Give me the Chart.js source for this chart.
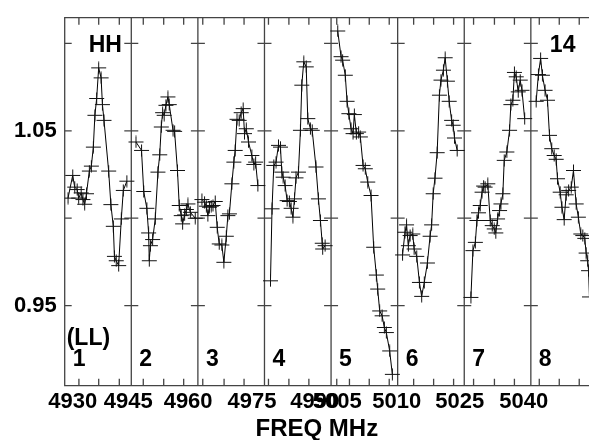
<!DOCTYPE html>
<html>
<head>
<meta charset="utf-8">
<script src="https://cdn.jsdelivr.net/npm/chart.js@4.4.1/dist/chart.umd.min.js"></script>
<style>
  html, body { margin: 0; padding: 0; background: #fff; }
  #chart { display: block; }
</style>
</head>
<body>
<canvas id="chart" width="589" height="440"></canvas>
<script>
// one spectrum per panel: [offset inside panel (MHz), amplitude]
const panel1 = [[0.75,1.0115],[1.8,1.0245],[2.25,1.0178],[2.8,1.0164],[3.15,1.0115],[3.7,1.0145],[4.1,1.0107],
  [4.5,1.0080],[4.9,1.0140],[5.55,1.0270],[6.0,1.0298],[6.45,1.0407],[6.8,1.0589],[7.2,1.0685],[7.65,1.0860],
  [8.2,1.0803],[8.5,1.0650],[8.85,1.0560],[9.9,1.0270],[10.4,1.0078],[10.95,0.9954],[11.2,0.9782],[11.6,0.9757],
  [12.15,0.9729],[12.75,0.9996],[13.2,1.0159],[14.0,1.0212]];
const panel2 = [[1.05,1.0436],[2.3,1.0388],[2.8,1.0153],[3.5,1.0057],[3.9,0.9916],[4.05,0.9757],[4.3,0.9843],
  [4.8,0.9878],[5.4,0.9996],[6.0,1.0264],[6.4,1.0363],[6.75,1.0522],[7.05,1.0604],[7.4,1.0589],[7.8,1.0646],
  [8.25,1.0694],[8.55,1.0650],[9.4,1.0503],[9.75,1.0497],[10.4,1.0273],[10.8,1.0073],[11.25,1.0015],
  [11.55,0.9968],[12.0,1.0019],[12.4,1.0050],[12.75,1.0082],[13.3,1.0034],[14.4,1.0000]];
const panel3 = [[0.9,1.0107],[1.5,1.0092],[1.9,1.0069],[2.25,1.0015],[2.6,1.0063],[3.0,1.0069],[3.4,1.0073],
  [3.9,1.0096],[4.35,0.9948],[4.8,0.9853],[5.4,0.9847],[5.85,0.9748],[6.4,0.9897],[6.75,1.0015],[7.1,1.0025],
  [7.65,1.0197],[8.1,1.0321],[8.4,1.0388],[8.8,1.0566],[9.3,1.0560],[9.75,1.0604],[10.2,1.0627],[10.5,1.0484],
  [10.9,1.0512],[11.4,1.0436],[12.15,1.0359],[12.6,1.0308],[13.0,1.0321],[13.5,1.0187]];
const panel4 = [[1.35,0.9642],[1.7,1.0054],[2.1,1.0302],[2.6,1.0321],[3.15,1.0417],[3.6,1.0407],[3.9,1.0264],
  [4.2,1.0235],[4.65,1.0187],[5.1,1.0101],[5.6,1.0096],[6.0,1.0057],[6.4,1.0006],[6.75,1.0111],[7.1,1.0231],
  [7.65,1.0264],[8.1,1.0503],[8.4,1.0761],[8.85,1.0895],[9.4,1.0866],[9.75,1.0570],[10.35,1.0512],[10.75,1.0503],
  [11.6,1.0293],[12.15,1.0111],[12.6,0.9987],[13.0,0.9857],[13.1,0.9824],[13.65,0.9843]];
const panel5 = [[1.5,1.1071],[2.25,1.0924],[2.6,1.0904],[3.2,1.0818],[3.6,1.0669],[4.0,1.0598],[4.5,1.0512],
  [4.95,1.0484],[5.25,1.0593],[5.7,1.0484],[6.2,1.0493],[6.6,1.0465],[7.2,1.0302],[7.7,1.0283],[8.25,1.0207],
  [9.0,1.0130],[9.6,0.9834],[10.2,0.9675],[10.5,0.9595],[10.95,0.9470],[11.5,0.9442],[12.0,0.9375],
  [12.45,0.9346],[13.2,0.9241],[13.8,0.9107]];
const panel6 = [[1.1,0.9790],[1.65,0.9920],[2.0,0.9962],[2.4,0.9843],[2.8,0.9901],[3.4,0.9910],[3.7,0.9824],
  [4.3,0.9782],[4.9,0.9633],[5.4,0.9553],[6.0,0.9633],[6.7,0.9744],[7.3,0.9897],[7.65,0.9962],[8.0,1.0140],
  [8.4,1.0229],[8.9,1.0375],[9.4,1.0704],[9.75,1.0790],[10.3,1.0847],[10.7,1.0918],[11.2,1.0784],[11.6,1.0669],
  [12.15,1.0560],[12.5,1.0532],[12.8,1.0459],[13.4,1.0388]];
const panel7 = [[1.5,0.9547],[1.95,0.9815],[2.5,0.9862],[2.85,0.9987],[3.2,1.0031],[3.6,1.0073],[4.0,1.0149],
  [4.35,1.0184],[4.7,1.0178],[5.3,1.0197],[5.85,0.9987],[6.3,0.9958],[6.75,0.9939],[7.1,0.9916],[7.5,0.9996],
  [7.95,1.0044],[8.25,1.0082],[8.7,1.0140],[9.0,1.0331],[9.6,1.0379],[10.2,1.0503],[10.5,1.0650],[10.95,1.0675],
  [11.3,1.0834],[11.7,1.0809],[12.15,1.0723],[12.6,1.0790],[13.0,1.0732],[13.6,1.0570]];
const panel8 = [[1.2,1.0669],[1.7,1.0822],[2.2,1.0914],[2.6,1.0818],[3.2,1.0732],[3.75,1.0675],[4.2,1.0474],
  [4.7,1.0398],[5.25,1.0359],[5.7,1.0337],[6.0,1.0226],[6.6,1.0149],[7.0,1.0063],[7.5,0.9992],[7.95,1.0134],
  [8.5,1.0159],[9.1,1.0178],[9.6,1.0273],[10.2,1.0082],[10.7,1.0006],[11.25,0.9910],[11.7,0.9901],
  [12.15,0.9885],[12.45,0.9801],[12.8,0.9757],[13.0,0.9700],[13.2,0.9550],[13.6,0.9450]];

const panels = [panel1, panel2, panel3, panel4, panel5, panel6, panel7, panel8];
const panelNames = ['1', '2', '3', '4', '5', '6', '7', '8'];
const PANEL_W = 15;
const X_MAX = 118.1;

// x tick labels (axis units: 15 per panel)
const xTickValues = [1.8, 14.3, 27.8, 42.2, 56.3, 61.4, 74.8, 89.0, 103.4];
const xTickLabels = ['4930', '4945', '4960', '4975', '4990', '5005', '5010', '5025', '5040'];
const minorTicks = [3.2, 7.66, 12.3, 17.7, 22.3, 26.8, 31.1, 35.9, 40.4, 45.9, 50.5, 55.0,
  61.28, 64.14, 68.6, 73.1, 78.6, 83.1, 87.6, 92.1, 96.8, 101.3, 106.9, 111.4, 115.9];
const yTickValues = [0.95, 1.00, 1.05, 1.10];
const yLabelled = [0.95, 1.05];

const FONT = '"Liberation Sans", Arial, sans-serif';

// plus-shaped marker
const plusMark = document.createElement('canvas');
plusMark.width = 17; plusMark.height = 13;
(() => {
  const c = plusMark.getContext('2d');
  c.strokeStyle = '#111'; c.lineWidth = 1;
  c.beginPath();
  c.moveTo(1, 6.5); c.lineTo(16, 6.5);
  c.moveTo(8.5, 0.5); c.lineTo(8.5, 12.5);
  c.stroke();
})();

const panelFrame = {
  id: 'panelFrame',
  beforeDatasetsDraw(chart) {
    const { ctx, chartArea: a, scales: { x, y } } = chart;
    ctx.save();
    ctx.strokeStyle = '#444';
    ctx.lineWidth = 1.3;
    ctx.beginPath();
    ctx.moveTo(a.right, a.top); ctx.lineTo(a.left, a.top);
    ctx.lineTo(a.left, a.bottom); ctx.lineTo(a.right, a.bottom);
    for (let i = 1; i < panels.length; i++) {
      const px = x.getPixelForValue(i * PANEL_W);
      ctx.moveTo(px, a.top); ctx.lineTo(px, a.bottom);
    }
    minorTicks.forEach(v => {
      const px = x.getPixelForValue(v);
      ctx.moveTo(px, a.top); ctx.lineTo(px, a.top + 7);
      ctx.moveTo(px, a.bottom); ctx.lineTo(px, a.bottom - 7);
    });
    for (let i = 0; i < panels.length; i++) {
      const px = x.getPixelForValue(i * PANEL_W);
      yTickValues.forEach(v => {
        const py = y.getPixelForValue(v);
        ctx.moveTo(i ? px - 7 : px, py); ctx.lineTo(px + 7, py);
      });
    }
    ctx.stroke();
    ctx.restore();
  },
  afterDatasetsDraw(chart) {
    const { ctx, chartArea: a, scales: { x } } = chart;
    ctx.save();
    ctx.fillStyle = '#000';
    ctx.font = 'bold 23px ' + FONT;
    ctx.textBaseline = 'alphabetic';
    ctx.fillText('HH', a.left + 24, a.top + 34);
    ctx.fillText('14', x.getPixelForValue(7 * PANEL_W) + 19, a.top + 34);
    ctx.fillText('(LL)', a.left + 2, a.bottom - 41);
    panelNames.forEach((n, i) => {
      ctx.fillText(n, x.getPixelForValue(i * PANEL_W) + 8, a.bottom - 20);
    });
    ctx.font = 'bold 24px ' + FONT;
    ctx.textAlign = 'center';
    ctx.fillText('FREQ MHz', (a.left + a.right) / 2 - 10, chart.height - 4);
    ctx.restore();
  }
};

new Chart(document.getElementById('chart'), {
  type: 'line',
  data: {
    datasets: panels.map((p, i) => ({
      data: p.map(([off, v]) => ({ x: i * PANEL_W + off, y: v })),
      borderColor: '#000',
      borderWidth: 1,
      tension: 0,
      fill: false,
      pointStyle: plusMark,
      pointRadius: 7,
    })),
  },
  options: {
    responsive: false,
    animation: false,
    layout: { autoPadding: false, padding: { top: 17.7, right: 0, left: 0, bottom: 0 } },
    plugins: { legend: { display: false }, tooltip: { enabled: false } },
    scales: {
      x: {
        type: 'linear', min: 0, max: X_MAX, bounds: 'data',
        grid: { display: false, drawTicks: false },
        border: { display: false },
        afterBuildTicks: s => { s.ticks = xTickValues.map(v => ({ value: v })); },
        afterFit: s => { s.height = 54.3; s.paddingLeft = 0; s.paddingRight = 0; },
        ticks: {
          autoSkip: false, maxRotation: 0, padding: 3, color: '#000',
          font: { family: FONT, size: 22, weight: 'bold' },
          callback: (v, i) => xTickLabels[i],
        },
      },
      y: {
        type: 'linear', min: 0.9042, max: 1.1147, bounds: 'data',
        grid: { display: false, drawTicks: false },
        border: { display: false },
        afterBuildTicks: s => { s.ticks = yTickValues.map(v => ({ value: v })); },
        afterFit: s => { s.width = 64.7; s.paddingTop = 0; s.paddingBottom = 0; },
        ticks: {
          padding: 8, color: '#000',
          font: { family: FONT, size: 22, weight: 'bold' },
          callback: v => yLabelled.includes(v) ? v.toFixed(2) : '',
        },
      },
    },
  },
  plugins: [panelFrame],
});
</script>
</body>
</html>
